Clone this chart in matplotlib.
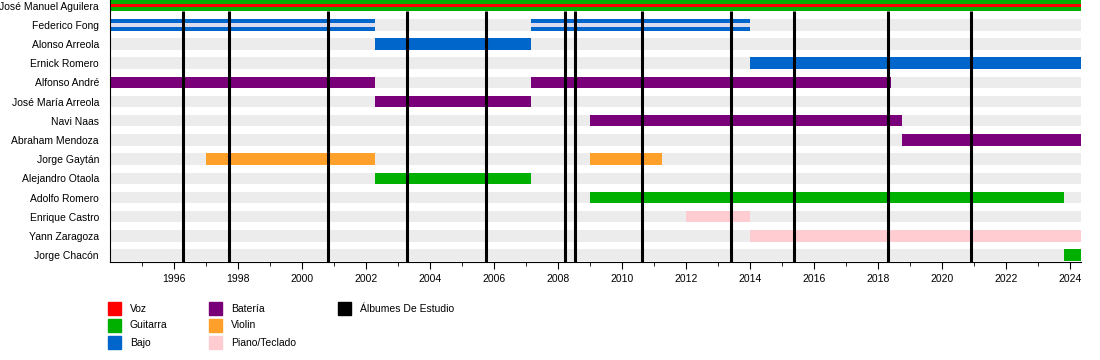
import matplotlib
matplotlib.use("Agg")
import matplotlib.pyplot as plt
from matplotlib.patches import Rectangle

plt.rcParams['font.family'] = ['Liberation Sans', 'DejaVu Sans']

# Band members, top to bottom
members = [
    "José Manuel Aguilera", "Federico Fong", "Alonso Arreola", "Ernick Romero",
    "Alfonso André", "José María Arreola", "Navi Naas", "Abraham Mendoza",
    "Jorge Gaytán", "Alejandro Otaola", "Adolfo Romero", "Enrique Castro",
    "Yann Zaragoza", "Jorge Chacón",
]

start_year = 1994.0
end_year = 2024.33

# Stints: member, role, start, end
stint_member = [
    "José Manuel Aguilera", "Federico Fong", "Federico Fong", "Alonso Arreola",
    "Ernick Romero", "Alfonso André", "Alfonso André", "José María Arreola",
    "Navi Naas", "Abraham Mendoza", "Jorge Gaytán", "Jorge Gaytán",
    "Alejandro Otaola", "Adolfo Romero", "Enrique Castro", "Yann Zaragoza",
    "Jorge Chacón",
]
stint_role = [
    "Guitarra", "Bajo", "Bajo", "Bajo",
    "Bajo", "Batería", "Batería", "Batería",
    "Batería", "Batería", "Violin", "Violin",
    "Guitarra", "Guitarra", "Piano/Teclado", "Piano/Teclado",
    "Guitarra",
]
stint_start = [
    1994.0, 1994.0, 2007.15, 2002.27,
    2014.0, 1994.0, 2007.15, 2002.27,
    2009.0, 2018.75, 1997.0, 2009.0,
    2002.27, 2009.0, 2012.0, 2014.0,
    2023.8,
]
stint_end = [
    end_year, 2002.27, 2014.0, 2007.15,
    end_year, 2002.27, 2018.4, 2007.15,
    2018.75, end_year, 2002.27, 2011.25,
    2007.15, 2023.8, 2014.0, end_year,
    end_year,
]

# Secondary thin stripes drawn inside a bar
stripe_member = ["José Manuel Aguilera", "Federico Fong", "Federico Fong"]
stripe_color = ["#ff0000", "#dcdcf0", "#dcdcf0"]
stripe_start = [1994.0, 1994.0, 2007.15]
stripe_end = [end_year, 2002.27, 2014.0]

# Studio albums
albums = [1996.28, 1997.71, 2000.8, 2003.27, 2005.73, 2008.2, 2008.51,
          2010.63, 2013.41, 2015.35, 2018.31, 2020.9]

roles = ["Voz", "Guitarra", "Bajo", "Batería", "Violin", "Piano/Teclado"]
role_colors = {
    "Voz": "#ff0000",
    "Guitarra": "#00b000",
    "Bajo": "#0066cc",
    "Batería": "#7a007a",
    "Violin": "#ffa02a",
    "Piano/Teclado": "#ffccd2",
}

fig = plt.figure(figsize=(11, 3.6), dpi=100)
ax = fig.add_axes([110 / 1100, 98 / 360, 971 / 1100, 262 / 360])

row = {m: i for i, m in enumerate(members)}
bar_h = 0.6

# background bands
for i in range(len(members)):
    ax.barh(i, end_year - start_year, left=start_year, height=bar_h,
            color="#ececec", zorder=1)

for m, r, s, e in zip(stint_member, stint_role, stint_start, stint_end):
    ax.barh(row[m], e - s, left=s, height=bar_h, color=role_colors[r], zorder=2)

for m, c, s, e in zip(stripe_member, stripe_color, stripe_start, stripe_end):
    ax.barh(row[m], e - s, left=s, height=0.2, color=c, zorder=3)

ax.set_ylim(13.36, -0.29)
ax.vlines(albums, bar_h / 2, 13.36, colors="black", linewidth=2.2, zorder=4)

ax.set_xlim(start_year, end_year)
ax.set_xticks(range(1996, 2025, 2))
ax.set_xticks(range(1995, 2025, 2), minor=True)
ax.tick_params(axis="x", which="major", length=5, labelsize=7.5, pad=4)
ax.tick_params(axis="x", which="minor", length=3)
ax.set_yticks(range(len(members)))
ax.set_yticklabels(members, fontsize=7.5)
ax.tick_params(axis="y", length=0, pad=8)
for side in ["top", "right"]:
    ax.spines[side].set_visible(False)
ax.spines["left"].set_zorder(5)

# legend, laid out in columns
legend_labels = roles + ["Álbumes De Estudio"]
legend_colors = [role_colors[r] for r in roles] + ["black"]
col_x = [108, 209, 338]
for k, (lab, col) in enumerate(zip(legend_labels, legend_colors)):
    cx = col_x[k // 3]
    cy = 302 + 17 * (k % 3)
    fig.patches.append(Rectangle((cx / 1100, 1 - (cy + 13) / 360), 13 / 1100, 13 / 360,
                                 transform=fig.transFigure, color=col))
    fig.text((cx + 22) / 1100, 1 - (cy + 6.5) / 360, lab, fontsize=7.5, va="center")

fig.savefig("out.png", dpi=100)
